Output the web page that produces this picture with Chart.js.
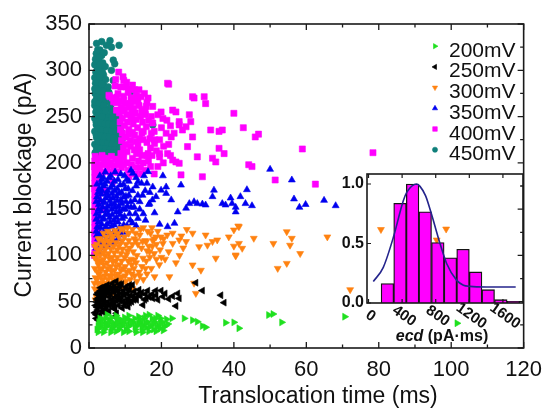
<!DOCTYPE html>
<html><head><meta charset="utf-8">
<script src="https://cdn.jsdelivr.net/npm/chart.js@4.4.1/dist/chart.umd.min.js"></script>
<style>
html,body{margin:0;padding:0;background:#fff;}
#wrap{position:relative;width:551px;height:411px;overflow:hidden;}
#main{position:absolute;left:0;top:0;}
#inset{position:absolute;left:330px;top:160px;}
</style></head><body>
<div id="wrap"><canvas id="main" width="551" height="411"></canvas><canvas id="inset" width="215" height="190"></canvas></div>
<script>
// ---------- DATA ----------
const seriesNames = ['200mV','250mV','300mV','350mV','400mV','450mV'];
const xTickLabels = [0,20,40,60,80,100,120];
const yTickLabels = [0,50,100,150,200,250,300,350];

const v200 = [[2.2,20],[3.2,24],[4.2,20],[5.2,24],[6.2,20],[7.2,24],[8.2,20],[9.2,24],[10.2,20],[2.7,28],[3.7,31],[4.7,27],[5.7,30],[6.7,27],[7.7,30],[8.7,27],[11.2,24],[12.2,28],[13.2,24],[14.2,28],[15.2,32],[16.2,28],[17.2,24],[18.2,28],[19.2,24],[20.2,28],[21.2,24],[15.8,22],[12.8,20],[11.2,30],[13.7,34],[16.6,36],[18.4,32],[19.6,21],[9.8,33],[7.5,35],[5.0,36],[3.0,22],[4.6,32],[17.8,20],[14.6,20],[21.4,31],[2.5,17],[6.0,17],[9.5,17],[13.0,17],[16.5,18],[20.5,19],[11.0,35],[14.8,25],[8.0,32],[19.0,35],
[2.5,24],[3.6,27],[4.6,23],[5.6,27],[6.6,23],[7.8,27],[8.6,23],[9.7,27],[10.7,23],[11.7,27],[12.7,23],[13.7,27],[14.7,23],[15.7,27],[16.7,23],[17.7,27],[18.7,23],[19.7,27],[20.7,23],[3.0,32],[6.2,33],[9.0,30],[10.4,31],[12.6,32],[14.1,31],[15.6,35],[17.4,32],[19.8,32],[4.0,17],[7.5,18],[11.0,18],[14.8,17],[18.5,18],[21.8,26],
[22.9,32],[26.3,32],[28.6,30],[29.9,28.4],[31.3,23.8],[32.2,22.4],[37.7,27.3],[40.0,27.7],[41.4,21.3],[49.6,35.6],[50.8,36.7],[53.2,27.7],[70.6,33.8],[101.6,26.7]];

const v250 = [[2.0,32],[2.5,30.2],[3.0,35.6],[1.6,38],[2.4,41],[3.4,44],[1.8,46],[2.8,49],[3.8,47],[4.8,45],[2.2,53],[3.2,56],[4.2,52],[5.2,50],[6.2,48],[2.6,60],[3.6,62],[4.6,58],[5.6,55],[6.6,53],[7.6,51],[4.0,66],[5.0,68],[6.0,64],[7.0,60],[8.0,57],[9.0,55],[6.5,70],[7.5,72],[8.5,66],[9.5,62],[10.5,59],[11.5,57],[9.0,69],[10.2,66],[11.2,63],[12.5,61],[13.5,58],[12.0,68],[8.2,46],[9.4,50],[10.6,52],[11.8,50],[13.0,54],[14.2,56],[15.4,52],[16.6,55],[5.5,40],[6.8,43],[4.2,38],[3.5,58],[5.0,62],[6.0,58],[7.0,66],
[2.0,36],[3.6,40],[2.2,44],[4.6,42],[3.0,46],[5.6,46],[6.6,46],[7.2,42],[2.0,50],[3.6,51],[4.4,48],[7.0,48],[8.6,51],[9.8,46],[2.8,54],[4.0,55],[6.4,51],[7.4,55],[8.4,53],[9.8,57],[11.0,54],[12.2,56],[2.2,58],[3.2,62],[4.2,60],[5.4,60],[6.6,62],[8.0,61],[9.0,59],[10.8,63],[3.2,65],[4.6,64],[5.6,66],[7.6,64],[8.4,69],[11.2,68],[13.8,63],[14.6,60],[15.6,58],[16.2,62],[17.4,58],[12.4,52],[11.2,49],[9.2,43],[18.4,62],[21.0,59],[22.0,53],[19.0,52],
[7.6,37.5],[7.1,33.8],[10.8,44.6],[10.3,49],[13.1,52],[15.8,53.6],[14.9,46.5],[17.6,53.6],[18.5,57],[19.9,62],[20.4,55.5],[23.1,56],[24.5,59],[24.9,53.6],[24.0,45.4],[29.5,70.5],[31.3,62],[36.4,57],[37.3,49]];

const v300 = [[1.8,52],[2.5,58],[1.6,64],[2.4,70],[3.4,66],[1.8,76],[2.8,80],[3.8,74],[4.8,70],[1.6,86],[2.6,90],[3.6,86],[4.6,82],[5.6,78],[6.6,74],[2.0,96],[3.0,100],[4.0,96],[5.0,92],[6.0,88],[7.0,84],[8.0,80],[9.0,76],[2.4,106],[3.4,110],[4.4,106],[5.4,102],[6.4,98],[7.4,94],[8.4,90],[9.4,86],[10.4,82],[3.8,116],[4.8,120],[5.8,114],[6.8,110],[7.8,106],[8.8,102],[9.8,98],[10.8,94],[11.8,90],[6.0,124],[7.2,127],[8.2,120],[9.2,116],[10.2,112],[11.2,108],[12.2,104],[13.2,100],[9.5,128],[11.0,124],[12.5,118],[13.5,112],[14.5,108],[12.0,128],[14.0,122],[15.5,116],[16.5,110],[15.0,130],[17.0,124],[18.0,118],[3.0,60],[4.2,62],[5.4,64],[6.6,66],[7.8,68],[9.0,70],[10.2,72],[11.4,74],[12.6,78],[13.8,82],[14.6,88],[13.0,92],[15.8,94],[16.8,98],[18.0,102],[19.6,106],[20.6,118],[21.6,122],[19.0,126],[17.4,130],[25.5,121],[27.0,128],[26.0,108],[22.0,104],[21.0,96],[19.4,90],[17.2,86],[16.0,80],[15.0,74],[24.0,92],[25.0,100],[2.6,118],[1.6,110],[1.5,98],[1.5,70],
[2.1,55],[3.0,54],[2.2,62],[3.4,70],[4.3,68],[5.8,70],[7.0,72],[8.2,74],[2.2,74],[3.2,77],[4.4,78],[5.2,74],[6.2,78],[7.4,78],[8.6,77],[10.0,78],[2.2,83],[3.1,85],[4.1,90],[5.1,86],[6.2,83],[7.5,88],[8.8,84],[10.0,88],[11.2,84],[12.4,86],[2.5,93],[3.5,94],[4.5,100],[5.6,97],[6.6,93],[7.8,98],[9.0,94],[10.4,101],[11.6,96],[12.5,95],[2.0,102],[3.0,106],[3.9,103],[4.8,110],[6.0,107],[7.0,103],[8.2,110],[9.2,107],[10.6,105],[12.0,112],[2.2,112],[3.0,118],[4.2,114],[5.2,116],[6.4,118],[7.4,114],[8.6,113],[9.8,120],[11.0,116],[13.0,116],[14.8,115],[4.0,124],[5.2,126],[6.6,121],[8.0,124],[8.8,129],[10.6,130],[12.8,124],[14.2,128],[16.2,126],[17.6,116],[16.0,105],[17.5,110],[18.6,112],[19.8,120],[20.0,98],[18.6,96],[15.6,86],[14.0,78],[11.8,80],[13.2,72],[10.6,68],[12.0,64],[9.4,64],[8.0,62],[6.6,60],[5.2,58],[4.0,56],
[10.8,124],[15.8,115],[23.1,124],[28.6,124],[32.2,122],[35.4,116.7],[40.0,127.5],[41.4,131],[45.5,118.5],[50.9,113],[54.6,125.6],[56.0,118.5],[52.1,86],[54.6,91.4],[40.5,100.5],[35.0,97],[30.9,84],[28.6,89.7],[22.2,77],[18.1,77],[29.5,59],[29.0,70],[23.1,113],[24.9,116.7],[26.8,115],[30.4,109.4],[32.7,111],[34.1,115],[18.5,120],[20.4,113],[16.7,104],[14.9,97],[41.2,131.8],[38.6,120],[41.4,113],[40.0,110],[42.3,107.7],[40.5,99.4],[55.5,111],[58.3,102],[65.8,120],[72.1,63],[80.6,128],[98.6,128.5],[96.0,116.7]];

const v350 = [[2.0,108],[3.0,112],[4.0,108],[2.5,118],[3.6,122],[4.8,118],[2.0,126],[3.2,130],[4.4,127],[5.6,124],[2.6,136],[3.8,139],[5.0,134],[6.2,131],[2.1,145],[3.3,148],[4.5,144],[5.7,141],[6.9,138],[2.7,155],[3.9,157],[5.1,153],[6.3,150],[7.5,147],[2.2,163],[3.4,166],[4.6,162],[5.8,159],[7.0,156],[8.2,153],[2.8,172],[4.0,175],[5.2,170],[6.4,167],[7.6,164],[8.8,160],[3.5,182],[5.0,180],[6.5,176],[7.8,172],[9.0,168],[10.2,164],[6.0,186],[8.0,182],[9.5,177],[10.8,172],[12.1,188.7],[11.5,158],[10.0,150],[9.2,140],[8.4,130],[7.4,122],[6.3,114],[11.2,145],[12.5,152],[13.5,165],[13.0,175],[14.5,178],[15.5,170],[14.0,158],[16.3,190.5],[15.0,145],[16.5,155],[12.0,135],[13.5,140],[10.5,132],[9.5,125],[8.0,118],[5.2,110],[3.0,104],[17.5,160],[16.8,168],[11.0,180],[9.8,186],[7.2,190],[4.5,190],
[2.4,112],[3.6,115],[4.8,113],[6.0,118],[7.0,115],[2.2,122],[3.1,124],[4.2,122],[5.2,127],[6.6,124],[7.8,126],[8.8,122],[2.3,131],[3.5,134],[4.6,131],[5.8,136],[7.0,133],[8.0,136],[9.6,133],[2.0,139],[3.0,142],[4.1,140],[5.2,145],[6.4,144],[7.6,141],[8.6,144],[9.8,142],[2.6,150],[3.8,152],[4.9,149],[6.0,155],[7.2,152],[8.4,148],[9.4,150],[10.6,153],[2.0,158],[3.1,160],[4.2,158],[5.4,164],[6.6,162],[7.8,159],[9.0,156],[10.2,158],[2.5,168],[3.6,170],[4.8,167],[6.0,173],[7.1,170],[8.3,167],[9.6,163],[11.0,165],[2.2,177],[3.3,178],[4.4,177],[5.6,184],[7.0,180],[8.6,176],[10.0,172],[12.0,170],[12.6,160],[11.6,152],[12.8,145],[14.0,150],[13.0,132],[11.4,138],[15.6,138],[14.8,165],[16.0,178],[15.2,186],[13.0,184],[11.6,192],[10.4,182],[8.8,188],[3.0,186],[4.0,184],
[20.4,186],[25.4,176],[21.3,174],[19.9,170.5],[18.5,163.5],[34.5,170.5],[34.1,163.5],[36.8,156],[41.8,163.5],[45.0,153.7],[50.0,193],[27.7,156],[29.0,158],[29.9,156],[31.3,155.5],[32.2,154.5],[26.8,151],[24.5,147],[23.6,134.7],[21.7,131],[19.5,133.6],[18.1,146],[16.7,156],[37.7,154.5],[39.5,156],[22.7,160],[21.3,167],[17.6,174],[13.5,179.5],[56.0,181.5],[43.6,171],[43.2,156],[40.5,152],[40.5,147],[39.1,162],[56.6,161],[58.1,152],[59.8,155],[64.9,159.5],[68.1,153.7]];

const v400 = [[1.5,100],[2.0,106],[1.6,112],[2.2,118],[1.5,124],[2.0,130],[1.6,136],[2.3,142],[1.5,148],[2.0,154],[1.6,160],[2.4,166],[1.5,172],[2.0,178],[1.6,184],[2.5,190],[1.5,196],[2.1,202],[1.7,207],[3.5,150],[4.5,170],[3.2,185],[5.0,195],[4.0,205],[6.0,200],[7.0,190],[8.0,200],[9.0,195],[10.5,200],[12,205],[3.0,195],[6.5,180],[2.8,170],[11,185],[13,195],[15,200],[14.5,188],[16,208],[17,196],[8.8,210],[9.5,216],[10.5,212],[11.5,218],[12.5,214],[13.5,220],[9.0,224],[10.2,228],[11.4,224],[12.6,230],[14.0,226],[8.7,236],[9.8,240],[11.0,236],[12.2,242],[13.4,238],[15.0,234],[9.2,248],[10.4,252],[11.6,248],[12.8,254],[14.2,250],[8.9,260],[10.0,264],[11.2,260],[12.4,266],[9.5,272],[10.8,276],[12.0,270],[7.5,265],[8.0,275],[6.5,270],[7.2,283],[16.5,246],[16.0,222],[17.2,232],[15.5,258],[13.8,262],[17.6,243],[18.1,225],[16.3,210],[14.6,208],[2.5,205],[3.6,208],[5.0,205],[6.2,207],[7.4,204],[3.0,198],[4.2,200],[5.6,198],[7.0,197],[8.4,198],[9.6,206],
[1.6,103],[1.6,118],[1.6,130],[1.6,142],[1.6,154],[1.6,166],[1.6,178],[1.6,190],[1.6,202],[2.6,112],[2.6,124],[2.6,148],[2.6,160],[2.6,184],[2.6,196],[3.8,190],[4.6,198],[5.8,190],[6.8,196],[8.0,190],[8.8,204],[9.6,198],[10.8,192],[11.8,198],[12.8,188],[13.6,202],[14.2,195],[15.6,192],[16.4,202],[17.4,208],[9.4,210],[10.0,220],[11.0,231],[9.2,232],[8.6,244],[8.4,254],[9.0,256],[9.8,258],[10.6,244],[11.8,255],[12.0,233],[13.0,247],[13.0,223],[14.0,214],[14.6,232],[14.8,244],[15.6,252],[16.0,265],[14.6,256],[13.4,270],[11.6,270],[10.2,282],[11.4,280],[8.8,282],[9.6,289],[7.4,290],[8.2,298],[10.4,287],[12.0,284],[16.8,226],[17.0,216],[18.0,234],[17.2,250],[18.6,213],[19.5,225],[20.0,238],[20.6,218],[21.5,246],[22.5,240],[19.0,252],[23.5,232],[22.0,220],[20.5,200],[22.5,208],[18.0,188],[7.7,271],[9.6,268],[11.5,262],[12.3,259],[5.5,273],[6.8,266],
[9.4,293],[22.0,285],[13.8,279],[14.4,271.5],[16.3,270],[9.0,266],[11.2,264],[13.1,273],[15.8,261],[19.9,255],[23.1,257],[24.0,255],[27.7,252],[29.0,270],[31.8,271.5],[40.0,253.5],[32.2,264],[28.1,244.5],[26.8,239],[25.8,235.5],[24.9,241],[33.6,235.5],[35.9,234],[36.8,235.5],[42.6,238],[45.9,228],[46.8,231],[35.9,215.7],[37.3,210],[34.1,205],[35.0,201],[29.9,206.5],[31.3,185],[24.0,201],[24.9,199.5],[28.6,228],[21.3,232],[21.7,210],[19.5,206.5],[19.0,196],[44.1,198],[45.0,196],[51.4,181.5],[58.9,215],[78.4,211],[62.5,177],[5.75,271.5],[8.0,266],[7.6,257],[12.6,279],[15.3,275],[13.5,268],[17.6,261],[21.7,286],[20.4,248],[24.9,244.5],[28.6,271.5],[22.7,228],[27.2,217.5],[25.4,187],[19.5,210],[14.9,225],[11.7,250],[9.9,228],[15.8,239],[18.1,221],[13.1,210],[23.1,203]];

const v450 = [[2.1,329],[3.5,331],[5.8,332],[8.3,327],[4.8,327],[6.2,325],[3.0,322],[3.5,316],[2.0,318],[1.8,312],[2.6,310],[3.8,308],[6.7,311],[7.1,307],[2.2,304],[3.2,302],[6.2,300],[1.9,298],[2.8,296],[4.0,295],[2.3,291],[3.4,289],[6.7,289],[1.8,286],[2.7,284],[4.2,283],[2.1,280],[3.3,278],[11.7,277],[1.7,275],[2.6,273],[3.9,272],[5.0,270],[2.0,268],[3.1,266],[4.4,265],[1.6,262],[2.5,261],[3.6,259],[5.2,258],[6.4,256],[1.9,255],[3.0,254],[4.2,252],[5.5,251],[7.0,250],[17.6,241],[1.6,248],[2.6,247],[3.8,246],[4.9,245],[6.1,244],[7.6,243],[2.0,241],[3.2,240],[4.4,239],[5.6,238],[6.8,237],[8.2,236],[1.6,234],[2.7,233],[3.9,232],[5.1,231],[6.3,230],[7.5,229],[2.1,227],[3.3,226],[4.5,225],[5.7,224],[6.9,223],[8.5,222],[1.6,220],[2.8,219],[4.0,218],[5.2,217],[6.4,216],[7.6,216],[2.2,213],[3.4,212],[4.6,212],[5.8,211],[7.0,211],[8.0,212],[1.7,211],[8.7,230],[7.9,247],
[2.4,322],[4.2,319],[2.9,314],[1.6,306],[3.0,306],[4.5,304],[2.5,300],[3.7,298],[1.6,292],[2.9,292],[4.6,290],[2.2,287],[3.6,285],[5.3,282],[1.6,280],[2.6,278],[4.2,277],[5.5,276],[2.2,271],[3.3,270],[4.6,268],[5.8,266],[1.6,266],[2.7,264],[4.0,262],[6.0,262],[2.2,258],[4.5,256],[7.6,255],[2.4,251],[3.6,250],[6.2,249],[8.3,250],[2.0,244],[3.3,243],[4.4,242],[5.4,242],[6.6,241],[8.8,240],[2.4,237],[3.7,236],[4.9,235],[6.2,234],[7.4,234],[9.0,233],[2.0,230],[3.2,229],[4.4,228],[5.6,228],[6.8,227],[8.0,226],[9.2,226],[2.6,223],[3.8,222],[5.1,221],[6.3,220],[7.5,219],[9.0,219],[2.1,216],[3.3,215],[4.5,215],[5.7,214],[7.0,214],[8.4,215],[2.8,211],[4.0,210.5],[5.2,210.5],[6.4,210.5],[7.6,211],[9.0,212]];

// inset histogram of ecd (pA·ms)
const ecdBinCenters = [225,375,525,675,825,975,1125,1275,1425,1575,1725];
const ecdCounts = [0.163,0.837,1.0,0.767,0.508,0.379,0.452,0.261,0.112,0.028,0.014];
const fitEcd = [57,176,295,414,455,574,613,680,744,851,931,1050,1130,1208,1400,1752];
const fitVal = [0.18,0.30,0.55,0.86,0.93,1.0,0.98,0.90,0.76,0.50,0.33,0.19,0.15,0.14,0.135,0.135];
const insetXTicks = [0,400,800,1200,1600];
const insetYTicks = [0,0.5,1.0];

// ---------- STYLE ----------
const FONT = "'Liberation Sans', Arial, Helvetica, sans-serif";
const seriesColors = ['#1fe01f','#000000','#ff8210','#0000f0','#ff00ff','#0f7f7a'];
const seriesStyles = ['triangle','triangle','triangle','triangle','rect','circle'];
const seriesRot = [90,-90,180,0,0,0];
const seriesRadius = [4.0,4.0,4.0,4.0,4.3,3.4];
const allSeries = [v200,v250,v300,v350,v400,v450];

const datasets = allSeries.map((d,i)=>({
  label: seriesNames[i],
  data: d.map(p=>({x:p[0],y:p[1]})),
  pointStyle: seriesStyles[i],
  rotation: seriesRot[i],
  pointRadius: seriesRadius[i],
  pointHoverRadius: seriesRadius[i],
  backgroundColor: seriesColors[i],
  borderColor: seriesColors[i],
  borderWidth: 0.6
}));

const mainDeco = {
  id:'mainDeco',
  afterDraw(chart){
    const ctx = chart.ctx, a = chart.chartArea, xs = chart.scales.x, ys = chart.scales.y;
    ctx.save();
    ctx.strokeStyle = '#1a1a1a'; ctx.lineWidth = 1.6;
    ctx.strokeRect(a.left, a.top, a.right-a.left, a.bottom-a.top);
    ctx.lineWidth = 1.3;
    ctx.beginPath();
    for (let v=0; v<=120; v+=10){
      const px = xs.getPixelForValue(v), len = v%20===0?6:3.5;
      ctx.moveTo(px,a.bottom); ctx.lineTo(px,a.bottom-len);
      ctx.moveTo(px,a.top); ctx.lineTo(px,a.top+len);
    }
    for (let v=0; v<=350; v+=25){
      const py = ys.getPixelForValue(v), len = v%50===0?6:3.5;
      ctx.moveTo(a.left,py); ctx.lineTo(a.left+len,py);
      ctx.moveTo(a.right,py); ctx.lineTo(a.right-len,py);
    }
    ctx.stroke();
    ctx.fillStyle = '#111';
    ctx.font = '23px ' + FONT;
    ctx.textAlign = 'center'; ctx.textBaseline = 'middle';
    ctx.fillText('Translocation time (ms)', 318, 397);
    ctx.save(); ctx.translate(25,185); ctx.rotate(-Math.PI/2);
    ctx.fillText('Current blockage (pA)', 0, 0); ctx.restore();
    ctx.restore();
    // legend
    for (let i=0;i<seriesNames.length;i++){
      const base = 56.7 + i*20.7;
      ctx.save();
      ctx.fillStyle = seriesColors[i]; ctx.strokeStyle = seriesColors[i]; ctx.lineWidth = 0.6;
      Chart.helpers.drawPoint(ctx, {pointStyle: seriesStyles[i], rotation: seriesRot[i], radius: seriesRadius[i]*0.75, borderWidth: 0.6}, 435, base-10.5);
      ctx.fillStyle = '#111';
      ctx.font = '21px ' + FONT;
      ctx.textAlign = 'left'; ctx.textBaseline = 'alphabetic';
      ctx.fillText(seriesNames[i], 449, base);
      ctx.restore();
    }
  }
};

new Chart(document.getElementById('main'), {
  type:'scatter',
  data:{datasets},
  options:{
    responsive:false, animation:false, events:[],
    layout:{padding:{left:0,top:24,right:24,bottom:0}},
    plugins:{legend:{display:false}, tooltip:{enabled:false}},
    scales:{
      x:{type:'linear', min:0, max:120,
         afterBuildTicks(s){ s.ticks = xTickLabels.map(v=>({value:v})); },
         afterFit(s){ s.height = 63; },
         grid:{display:false, drawTicks:false}, border:{display:false},
         ticks:{font:{family:FONT,size:22}, color:'#111', padding:9, maxRotation:0, autoSkip:false}},
      y:{type:'linear', min:0, max:350,
         afterBuildTicks(s){ s.ticks = yTickLabels.map(v=>({value:v})); },
         afterFit(s){ s.width = 89; },
         grid:{display:false, drawTicks:false}, border:{display:false},
         ticks:{font:{family:FONT,size:22}, color:'#111', padding:7, autoSkip:false}}
    }
  },
  plugins:[mainDeco]
});

// ---------- INSET ----------
const insetDeco = {
  id:'insetDeco',
  afterDraw(chart){
    const ctx = chart.ctx, a = chart.chartArea, xs = chart.scales.x, ys = chart.scales.y;
    ctx.save();
    ctx.strokeStyle = '#1a1a1a'; ctx.lineWidth = 1.6;
    ctx.strokeRect(a.left, a.top, a.right-a.left, a.bottom-a.top);
    ctx.lineWidth = 1.2;
    ctx.beginPath();
    insetXTicks.forEach(v=>{ const px = xs.getPixelForValue(v);
      ctx.moveTo(px,a.top); ctx.lineTo(px,a.top+4);
      ctx.moveTo(px,a.bottom); ctx.lineTo(px,a.bottom-4); });
    insetYTicks.forEach(v=>{ const py = ys.getPixelForValue(v);
      ctx.moveTo(a.left,py); ctx.lineTo(a.left+4,py); });
    ctx.stroke();
    ctx.fillStyle = '#111';
    ctx.font = 'bold 15px ' + FONT;
    ctx.textAlign = 'center'; ctx.textBaseline = 'middle';
    insetXTicks.forEach(v=>{
      const px = xs.getPixelForValue(v);
      ctx.save(); ctx.translate(px+2, a.bottom+13); ctx.rotate(35*Math.PI/180);
      ctx.fillText(String(v), 0, 0); ctx.restore();
    });
    ctx.font = 'italic bold 16px ' + FONT;
    const w1 = ctx.measureText('ecd').width;
    ctx.font = 'bold 16px ' + FONT;
    const w2 = ctx.measureText(' (pA\u00b7ms)').width;
    const x0 = 112 - (w1+w2)/2;
    ctx.textAlign = 'left';
    ctx.font = 'italic bold 16px ' + FONT;
    ctx.fillText('ecd', x0, 177);
    ctx.font = 'bold 16px ' + FONT;
    ctx.fillText(' (pA\u00b7ms)', x0+w1, 177);
    ctx.restore();
  }
};

new Chart(document.getElementById('inset'), {
  type:'bar',
  data:{datasets:[
    {type:'line', data: fitEcd.map((x,i)=>({x, y:fitVal[i]})), borderColor:'#24248c', borderWidth:1.6,
     pointRadius:0, cubicInterpolationMode:'monotone', fill:false, order:0},
    {type:'bar', data: ecdBinCenters.map((x,i)=>({x, y:ecdCounts[i]})), backgroundColor:'#ff00ff',
     borderColor:'#151515', borderWidth:1.3, barPercentage:1, categoryPercentage:1, order:1}
  ]},
  options:{
    responsive:false, animation:false, events:[],
    layout:{padding:{left:0,top:14,right:22,bottom:0}},
    plugins:{legend:{display:false}, tooltip:{enabled:false}},
    scales:{
      x:{type:'linear', min:-18, max:1839, offset:false,
         grid:{display:false}, border:{display:false}, ticks:{display:false},
         afterFit(s){ s.height = 47; }},
      y:{type:'linear', min:0, max:1.084,
         afterBuildTicks(s){ s.ticks = insetYTicks.map(v=>({value:v})); },
         afterFit(s){ s.width = 37; },
         grid:{display:false, drawTicks:false}, border:{display:false},
         ticks:{font:{family:FONT,size:16,weight:'bold'}, color:'#111', padding:3,
                callback:v=>Number(v).toFixed(1)}}
    }
  },
  plugins:[insetDeco]
});
</script>
</body></html>
